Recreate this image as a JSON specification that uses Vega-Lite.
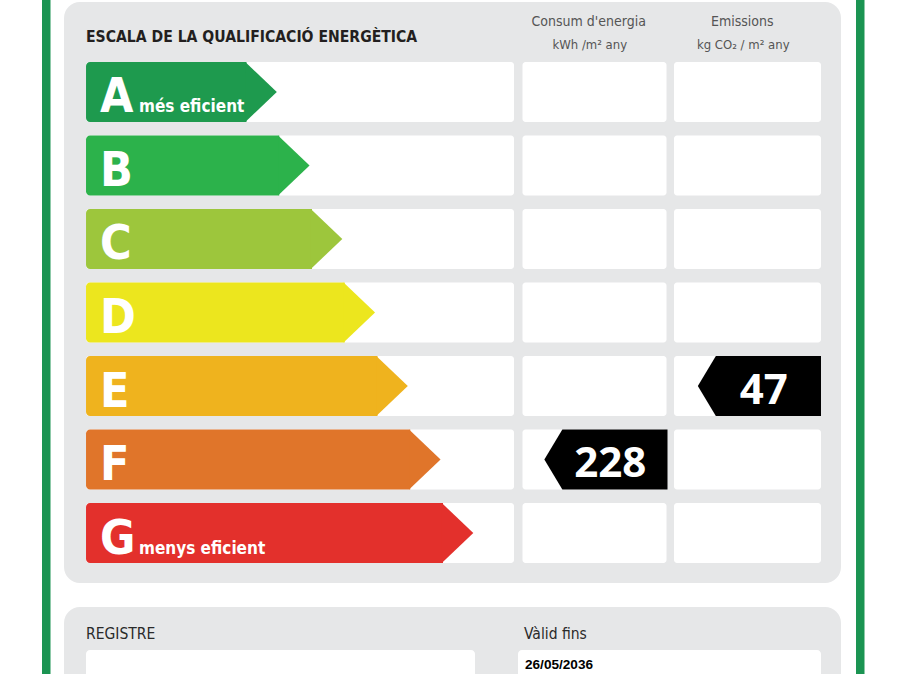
{
  "$schema": "https://vega.github.io/schema/vega-lite/v6.json",
  "width": 901,
  "height": 674,
  "autosize": {"type": "none"},
  "padding": 0,
  "background": "white",
  "config": {"view": {"stroke": null}, "axis": {"disable": true}, "legend": {"disable": true}},
  "datasets": {
    "classes": [
      {"class": "A", "rank": 1, "desc": "més eficient"},
      {"class": "B", "rank": 2, "desc": ""},
      {"class": "C", "rank": 3, "desc": ""},
      {"class": "D", "rank": 4, "desc": ""},
      {"class": "E", "rank": 5, "desc": ""},
      {"class": "F", "rank": 6, "desc": ""},
      {"class": "G", "rank": 7, "desc": "menys eficient"}
    ],
    "ratings": [
      {"metric": "Consum d'energia", "class": "F", "value": 228},
      {"metric": "Emissions", "class": "E", "value": 47}
    ],
    "headers": [
      {"metric": "Consum d'energia", "name": "Consum d'energia", "unit": "kWh /m²  any"},
      {"metric": "Emissions", "name": "Emissions", "unit": "kg CO₂  / m²  any"}
    ],
    "footer": [
      {"label": "REGISTRE", "value": ""},
      {"label": "Vàlid fins", "value": "26/05/2036"}
    ]
  },
  "resolve": {"scale": {"x": "independent", "y": "independent", "color": "independent"}},
  "layer": [
    {
      "data": {"values": [{}]},
      "mark": {"type": "rect", "color": "#1b9452"},
      "encoding": {
        "x": {"datum": 42, "type": "quantitative", "scale": {"domain": [0, 901], "range": [0, 901], "nice": false, "zero": false}},
        "x2": {"datum": 50.5},
        "y": {"datum": 0, "type": "quantitative", "scale": {"domain": [0, 674], "range": [0, 674], "nice": false, "zero": false}},
        "y2": {"datum": 674}
      }
    },
    {
      "data": {"values": [{}]},
      "mark": {"type": "rect", "color": "#1b9452"},
      "encoding": {
        "x": {"datum": 856, "type": "quantitative", "scale": {"domain": [0, 901], "range": [0, 901], "nice": false, "zero": false}},
        "x2": {"datum": 864.5},
        "y": {"datum": 0, "type": "quantitative", "scale": {"domain": [0, 674], "range": [0, 674], "nice": false, "zero": false}},
        "y2": {"datum": 674}
      }
    },
    {
      "data": {"values": [{}]},
      "mark": {"type": "rect", "color": "#e6e7e8", "cornerRadius": 16},
      "encoding": {
        "x": {"datum": 64, "type": "quantitative", "scale": {"domain": [0, 901], "range": [0, 901], "nice": false, "zero": false}},
        "x2": {"datum": 841},
        "y": {"datum": 2, "type": "quantitative", "scale": {"domain": [0, 674], "range": [0, 674], "nice": false, "zero": false}},
        "y2": {"datum": 583}
      }
    },
    {
      "data": {"values": [{}]},
      "mark": {"type": "rect", "color": "#e6e7e8", "cornerRadius": 16},
      "encoding": {
        "x": {"datum": 64, "type": "quantitative", "scale": {"domain": [0, 901], "range": [0, 901], "nice": false, "zero": false}},
        "x2": {"datum": 841},
        "y": {"datum": 607, "type": "quantitative", "scale": {"domain": [0, 674], "range": [0, 674], "nice": false, "zero": false}},
        "y2": {"datum": 730}
      }
    },
    {
      "data": {"name": "classes"},
      "mark": {"type": "rect", "color": "white", "cornerRadius": 3},
      "encoding": {
        "x": {"datum": 86, "type": "quantitative", "scale": {"domain": [0, 901], "range": [0, 901], "nice": false, "zero": false}},
        "x2": {"datum": 514},
        "y": {"field": "class", "type": "nominal", "scale": {"type": "band", "domain": ["A", "B", "C", "D", "E", "F", "G"], "range": [62, 563], "paddingInner": 0.184, "paddingOuter": 0}}
      }
    },
    {
      "data": {"name": "classes"},
      "mark": {"type": "rect", "color": "white", "cornerRadius": 3},
      "encoding": {
        "x": {"datum": 522.5, "type": "quantitative", "scale": {"domain": [0, 901], "range": [0, 901], "nice": false, "zero": false}},
        "x2": {"datum": 666.5},
        "y": {"field": "class", "type": "nominal", "scale": {"type": "band", "domain": ["A", "B", "C", "D", "E", "F", "G"], "range": [62, 563], "paddingInner": 0.184, "paddingOuter": 0}}
      }
    },
    {
      "data": {"name": "classes"},
      "mark": {"type": "rect", "color": "white", "cornerRadius": 3},
      "encoding": {
        "x": {"datum": 674, "type": "quantitative", "scale": {"domain": [0, 901], "range": [0, 901], "nice": false, "zero": false}},
        "x2": {"datum": 821},
        "y": {"field": "class", "type": "nominal", "scale": {"type": "band", "domain": ["A", "B", "C", "D", "E", "F", "G"], "range": [62, 563], "paddingInner": 0.184, "paddingOuter": 0}}
      }
    },
    {
      "data": {"name": "classes"},
      "mark": {"type": "bar", "cornerRadiusTopLeft": 4, "cornerRadiusBottomLeft": 4},
      "encoding": {
        "x": {"field": "rank", "type": "quantitative", "scale": {"domain": [1, 7], "range": [246.5, 443], "nice": false, "zero": false}},
        "x2": {"datum": -3.9},
        "y": {"field": "class", "type": "nominal", "scale": {"type": "band", "domain": ["A", "B", "C", "D", "E", "F", "G"], "range": [62, 563], "paddingInner": 0.184, "paddingOuter": 0}},
        "color": {"field": "class", "type": "nominal", "scale": {"domain": ["A", "B", "C", "D", "E", "F", "G"], "range": ["#1e9a4e", "#2cb24b", "#9dc63c", "#ece61e", "#efb31e", "#e0752a", "#e3302c"]}, "legend": null}
      }
    },
    {
      "data": {"name": "classes"},
      "mark": {"type": "point", "shape": "M-0.04,-1L1.01,0L-0.04,1Z", "size": 3600, "filled": true, "opacity": 1, "strokeWidth": 0},
      "encoding": {
        "x": {"field": "rank", "type": "quantitative", "scale": {"domain": [1, 7], "range": [246.5, 443], "nice": false, "zero": false}},
        "y": {"field": "class", "type": "nominal", "scale": {"type": "band", "domain": ["A", "B", "C", "D", "E", "F", "G"], "range": [62, 563], "paddingInner": 0.184, "paddingOuter": 0}},
        "color": {"field": "class", "type": "nominal", "scale": {"domain": ["A", "B", "C", "D", "E", "F", "G"], "range": ["#1e9a4e", "#2cb24b", "#9dc63c", "#ece61e", "#efb31e", "#e0752a", "#e3302c"]}, "legend": null}
      }
    },
    {
      "data": {"name": "classes"},
      "mark": {"type": "text", "font": "DejaVu Sans Condensed", "fontWeight": "bold", "fontSize": 48, "color": "white", "align": "left", "baseline": "alphabetic", "dy": 20.5},
      "encoding": {
        "x": {"datum": 100, "type": "quantitative", "scale": {"domain": [0, 901], "range": [0, 901], "nice": false, "zero": false}},
        "y": {"field": "class", "type": "nominal", "scale": {"type": "band", "domain": ["A", "B", "C", "D", "E", "F", "G"], "range": [62, 563], "paddingInner": 0.184, "paddingOuter": 0}},
        "text": {"field": "class", "type": "nominal"}
      }
    },
    {
      "data": {"name": "classes"},
      "mark": {"type": "text", "font": "DejaVu Sans Condensed", "fontWeight": "bold", "fontSize": 17, "color": "white", "align": "left", "baseline": "alphabetic", "dy": 20.5},
      "encoding": {
        "x": {"datum": 139, "type": "quantitative", "scale": {"domain": [0, 901], "range": [0, 901], "nice": false, "zero": false}},
        "y": {"field": "class", "type": "nominal", "scale": {"type": "band", "domain": ["A", "B", "C", "D", "E", "F", "G"], "range": [62, 563], "paddingInner": 0.184, "paddingOuter": 0}},
        "text": {"field": "desc", "type": "nominal"}
      }
    },
    {
      "data": {"values": [{"title": "ESCALA DE LA QUALIFICACIÓ ENERGÈTICA"}]},
      "mark": {"type": "text", "font": "DejaVu Sans Condensed", "fontWeight": "bold", "fontSize": 15.6, "color": "#231f20", "align": "left", "baseline": "alphabetic"},
      "encoding": {
        "x": {"datum": 86, "type": "quantitative", "scale": {"domain": [0, 901], "range": [0, 901], "nice": false, "zero": false}},
        "y": {"datum": 41.5, "type": "quantitative", "scale": {"domain": [0, 674], "range": [0, 674], "nice": false, "zero": false}},
        "text": {"field": "title", "type": "nominal"}
      }
    },
    {
      "data": {"name": "headers"},
      "mark": {"type": "text", "font": "DejaVu Sans Condensed", "fontSize": 14, "color": "#555555", "align": "center", "baseline": "alphabetic", "dx": -6},
      "encoding": {
        "x": {"field": "metric", "type": "nominal", "scale": {"type": "band", "domain": ["Consum d'energia", "Emissions"], "range": [522, 821], "paddingInner": 0.052, "paddingOuter": 0}},
        "y": {"datum": 25.5, "type": "quantitative", "scale": {"domain": [0, 674], "range": [0, 674], "nice": false, "zero": false}},
        "text": {"field": "name", "type": "nominal"}
      }
    },
    {
      "data": {"name": "headers"},
      "mark": {"type": "text", "font": "DejaVu Sans Condensed", "fontSize": 13, "color": "#555555", "align": "center", "baseline": "alphabetic", "dx": -5},
      "encoding": {
        "x": {"field": "metric", "type": "nominal", "scale": {"type": "band", "domain": ["Consum d'energia", "Emissions"], "range": [522, 821], "paddingInner": 0.052, "paddingOuter": 0}},
        "y": {"datum": 48.5, "type": "quantitative", "scale": {"domain": [0, 674], "range": [0, 674], "nice": false, "zero": false}},
        "text": {"field": "unit", "type": "nominal"}
      }
    },
    {
      "data": {"name": "ratings"},
      "mark": {"type": "point", "shape": "M2.425,-1L2.425,1L-1.08,1L-1.68,0L-1.08,-1Z", "size": 3600, "filled": true, "opacity": 1, "color": "black", "strokeWidth": 0},
      "encoding": {
        "x": {"field": "metric", "type": "nominal", "scale": {"type": "band", "domain": ["Consum d'energia", "Emissions"], "range": [522, 821], "paddingInner": 0.052, "paddingOuter": 0}},
        "y": {"field": "class", "type": "nominal", "scale": {"type": "band", "domain": ["A", "B", "C", "D", "E", "F", "G"], "range": [62, 563], "paddingInner": 0.184, "paddingOuter": 0}}
      }
    },
    {
      "data": {"name": "ratings"},
      "mark": {"type": "text", "font": "Open Sans", "fontWeight": "bold", "fontSize": 42, "color": "white", "align": "center", "baseline": "alphabetic", "dx": 15.5, "dy": 17.5},
      "encoding": {
        "x": {"field": "metric", "type": "nominal", "scale": {"type": "band", "domain": ["Consum d'energia", "Emissions"], "range": [522, 821], "paddingInner": 0.052, "paddingOuter": 0}},
        "y": {"field": "class", "type": "nominal", "scale": {"type": "band", "domain": ["A", "B", "C", "D", "E", "F", "G"], "range": [62, 563], "paddingInner": 0.184, "paddingOuter": 0}},
        "text": {"field": "value", "type": "quantitative"}
      }
    },
    {
      "data": {"values": [{}]},
      "mark": {"type": "rect", "color": "white", "cornerRadius": 4},
      "encoding": {
        "x": {"datum": 86, "type": "quantitative", "scale": {"domain": [0, 901], "range": [0, 901], "nice": false, "zero": false}},
        "x2": {"datum": 475},
        "y": {"datum": 650, "type": "quantitative", "scale": {"domain": [0, 674], "range": [0, 674], "nice": false, "zero": false}},
        "y2": {"datum": 730}
      }
    },
    {
      "data": {"values": [{}]},
      "mark": {"type": "rect", "color": "white", "cornerRadius": 4},
      "encoding": {
        "x": {"datum": 518, "type": "quantitative", "scale": {"domain": [0, 901], "range": [0, 901], "nice": false, "zero": false}},
        "x2": {"datum": 821},
        "y": {"datum": 650, "type": "quantitative", "scale": {"domain": [0, 674], "range": [0, 674], "nice": false, "zero": false}},
        "y2": {"datum": 730}
      }
    },
    {
      "data": {"name": "footer"},
      "mark": {"type": "text", "font": "DejaVu Sans Condensed", "fontSize": 15.5, "color": "#2a2a2a", "align": "left", "baseline": "alphabetic"},
      "encoding": {
        "x": {"field": "label", "type": "nominal", "scale": {"type": "point", "domain": ["REGISTRE", "Vàlid fins"], "range": [86, 524], "padding": 0}},
        "y": {"datum": 638.8, "type": "quantitative", "scale": {"domain": [0, 674], "range": [0, 674], "nice": false, "zero": false}},
        "text": {"field": "label", "type": "nominal"}
      }
    },
    {
      "data": {"name": "footer"},
      "mark": {"type": "text", "font": "Liberation Sans", "fontWeight": "bold", "fontSize": 13.6, "color": "black", "align": "left", "baseline": "alphabetic", "dx": 1},
      "encoding": {
        "x": {"field": "label", "type": "nominal", "scale": {"type": "point", "domain": ["REGISTRE", "Vàlid fins"], "range": [86, 524], "padding": 0}},
        "y": {"datum": 669.3, "type": "quantitative", "scale": {"domain": [0, 674], "range": [0, 674], "nice": false, "zero": false}},
        "text": {"field": "value", "type": "nominal"}
      }
    }
  ]
}
